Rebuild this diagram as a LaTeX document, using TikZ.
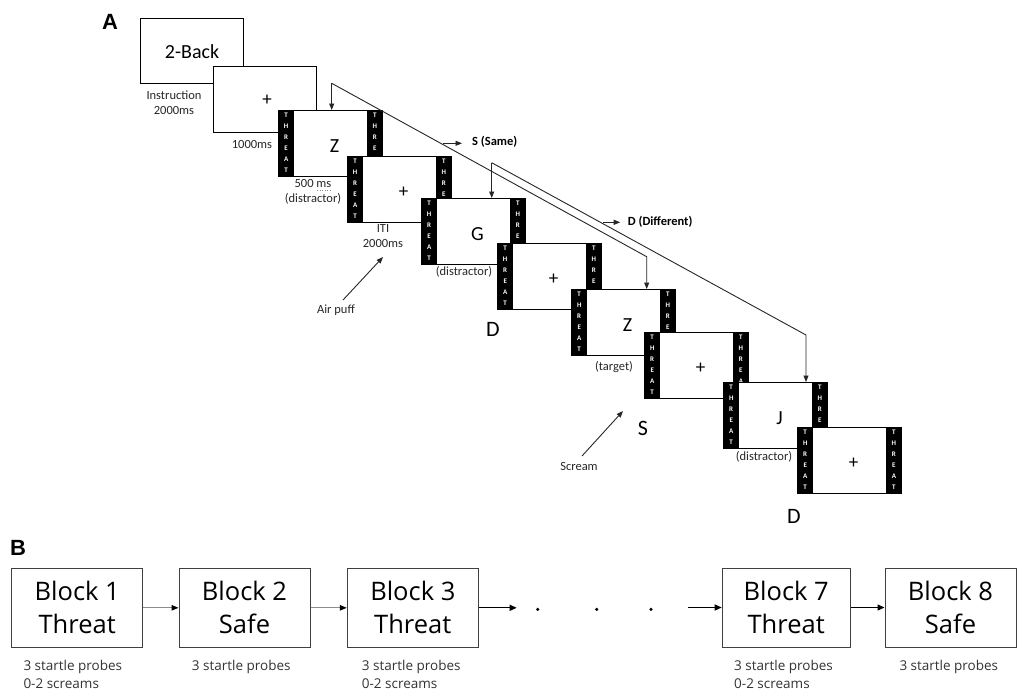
\documentclass[tikz,border=0pt]{standalone}
\usepackage{fontspec}
\setmainfont{Carlito}
\newfontfamily\osans{Open Sans}
\newfontfamily\arialf{Liberation Sans}
\usetikzlibrary{arrows.meta}

\newcommand{\barstim}[5]{%
  \node[stim] (#1) at (#2,#3) {};
  \node[tbar, anchor=north west] (#1l) at (#1.north west) {T\\H\\R\\E\\A\\T};
  \node[tbar, anchor=north east] (#1r) at (#1.north east) {T\\H\\R\\E\\A\\T};
  \node[#4] (#1t) at ([xshift=4pt,yshift=-3pt]#1.center) {#5};
}

\begin{document}
\begin{tikzpicture}[x=1pt,y=-1pt,
  stim/.style={draw=black, fill=white, line width=1.1pt, minimum width=104pt, minimum height=66pt, inner sep=0pt, anchor=north west},
  plainstim/.style={stim, minimum width=103pt},
  tbar/.style={fill=black, text=white, minimum width=16pt, minimum height=66pt, inner sep=0pt, align=center, font=\bfseries\fontsize{7}{11}\selectfont},
  stimtxt/.style={font=\fontsize{20}{24}\selectfont, inner sep=0pt},
  plustxt/.style={font=\fontsize{19}{20}\selectfont, inner sep=0pt},
  lbl/.style={font=\fontsize{12.5}{15}\selectfont, text=black!85, inner sep=0pt, align=center},
  bigl/.style={font=\fontsize{22}{24}\selectfont, inner sep=0pt},
  conn/.style={draw=black!85, line width=0.9pt},
  arr/.style={conn, -{Triangle[length=6.5pt,width=5pt]}},
  sd/.style={font=\bfseries\fontsize{12.5}{14}\selectfont, inner sep=0pt, anchor=west},
  blk/.style={draw=black!75, line width=1pt, minimum width=131pt, minimum height=79pt, inner sep=0pt, align=center, font=\osans\fontsize{25.5}{33}\selectfont},
  blknote/.style={font=\osans\fontsize{13.5}{15}\selectfont, text=black!80, inner sep=0pt, anchor=base west},
  panel/.style={font=\arialf\bfseries\fontsize{22}{24}\selectfont, inner sep=0pt},
  garr/.style={draw=black!45, line width=1pt, -{Triangle[length=7pt,width=5.5pt,color=black]}},
  barr/.style={draw=black, line width=1.2pt, -{Triangle[length=7pt,width=6pt]}},
  dotn/.style={circle, fill=black, inner sep=0pt, minimum size=3.5pt},
]
\useasboundingbox (0,0) rectangle (1019,691);

% ---------- Panel A ----------
\node[panel] (pA) at (110,22) {A};

\node[plainstim, minimum height=65pt] (f0) at (140,18) {};
\node[stimtxt] (f0t) at ([yshift=-1pt]f0.center) {2-Back};
\node[plainstim] (f1) at (213,66) {};
\node[plustxt] (f1t) at ([xshift=2pt,yshift=-1pt]f1.center) {+};

\barstim{f2}{278}{110}{stimtxt}{Z}
\barstim{f3}{347}{156}{plustxt}{+}
\barstim{f4}{421}{198}{stimtxt}{G}
\barstim{f5}{497}{243}{plustxt}{+}
\barstim{f6}{571}{289}{stimtxt}{Z}
\barstim{f7}{644}{332}{plustxt}{+}
\barstim{f8}{723}{382}{stimtxt}{J}
\barstim{f9}{797}{427}{plustxt}{+}

% labels
\node[lbl] (l0) at (174,103) {Instruction\\2000ms};
\node[lbl] (l1) at (252,144) {1000ms};
\node[lbl] (l2) at (313,192) {500 ms\\(distractor)};
\draw[black!45, dotted, line width=0.6pt] (317,190) -- (332,190);
\node[lbl] (l3) at (383,236) {ITI\\2000ms};
\node[lbl] (l4) at (464,272) {(distractor)};
\node[lbl] (l5) at (614,367) {(target)};
\node[lbl] (l6) at (764,457) {(distractor)};

\node[lbl] (air) at (336,310) {Air puff};
\coordinate (airtail) at (343,300);
\coordinate (airtip) at (383,257);
\draw[arr] (airtail) -- (airtip);

\node[lbl] (scr) at (579,466) {Scream};
\coordinate (scrtail) at (582,456);
\coordinate (scrtip) at (623,411);
\draw[arr] (scrtail) -- (scrtip);

\node[bigl] (sS) at (643,428) {S};
\node[bigl] (sD1) at (493,329) {D};
\node[bigl] (sD2) at (794,516) {D};

% 2-back connectors
\coordinate (cA1) at (331.7,83.3);
\coordinate (cA2) at (646.7,256.7);
\coordinate (cB1) at (491.7,162.7);
\coordinate (cB2) at (806,335);
\draw[arr] (cA1) -- (cA1 |- f2.north);
\draw[arr] (cA1) -- (cA2) -- (cA2 |- f6.north);
\draw[arr] (cB1) -- (cB1 |- f4.north);
\draw[arr] (cB1) -- (cB2) -- (cB2 |- f8.north);

\coordinate (sa0) at (443,143.3);
\node[sd] (same) at (472,142) {S (Same)};
\draw[arr] (sa0) -- ([xshift=-10pt]same.west |- sa0);
\coordinate (da0) at (603.3,222.3);
\node[sd] (diff) at (627.7,221.5) {D (Different)};
\draw[arr] (da0) -- ([xshift=-7.5pt]diff.west |- da0);

% ---------- Panel B ----------
\node[panel] (pB) at (18,548) {B};

\node[blk] (b1) at (77.2,607.8) {Block 1\\Threat};
\node[blk] (b2) at (244.5,607.8) {Block 2\\Safe};
\node[blk] (b3) at (412.8,607.8) {Block 3\\Threat};
\node[blk, minimum width=128pt] (b7) at (786.2,607.5) {Block 7\\Threat};
\node[blk] (b8) at (950.5,607.5) {Block 8\\Safe};

\draw[garr] (b1) -- (b2);
\draw[garr] (b2) -- (b3);
\coordinate (b3end) at (516.7,607.8);
\draw[barr] (b3) -- (b3end);
\node[dotn] (d1) at (537.7,609.3) {};
\node[dotn] (d2) at (596.7,609.3) {};
\node[dotn] (d3) at (651,609.3) {};
\coordinate (b7start) at (688.3,607.5);
\draw[barr] (b7start) -- (b7);
\draw[barr] (b7) -- (b8);

\node[blknote] (n1a) at (23.3,670) {3 startle probes};
\node[blknote] (n1b) at (23.3,688) {0-2 screams};
\node[blknote] (n2a) at (191.7,670) {3 startle probes};
\node[blknote] (n3a) at (361.7,670) {3 startle probes};
\node[blknote] (n3b) at (361.7,688) {0-2 screams};
\node[blknote] (n7a) at (734,670) {3 startle probes};
\node[blknote] (n7b) at (734,688) {0-2 screams};
\node[blknote] (n8a) at (899.3,670) {3 startle probes};
\end{tikzpicture}
\end{document}
